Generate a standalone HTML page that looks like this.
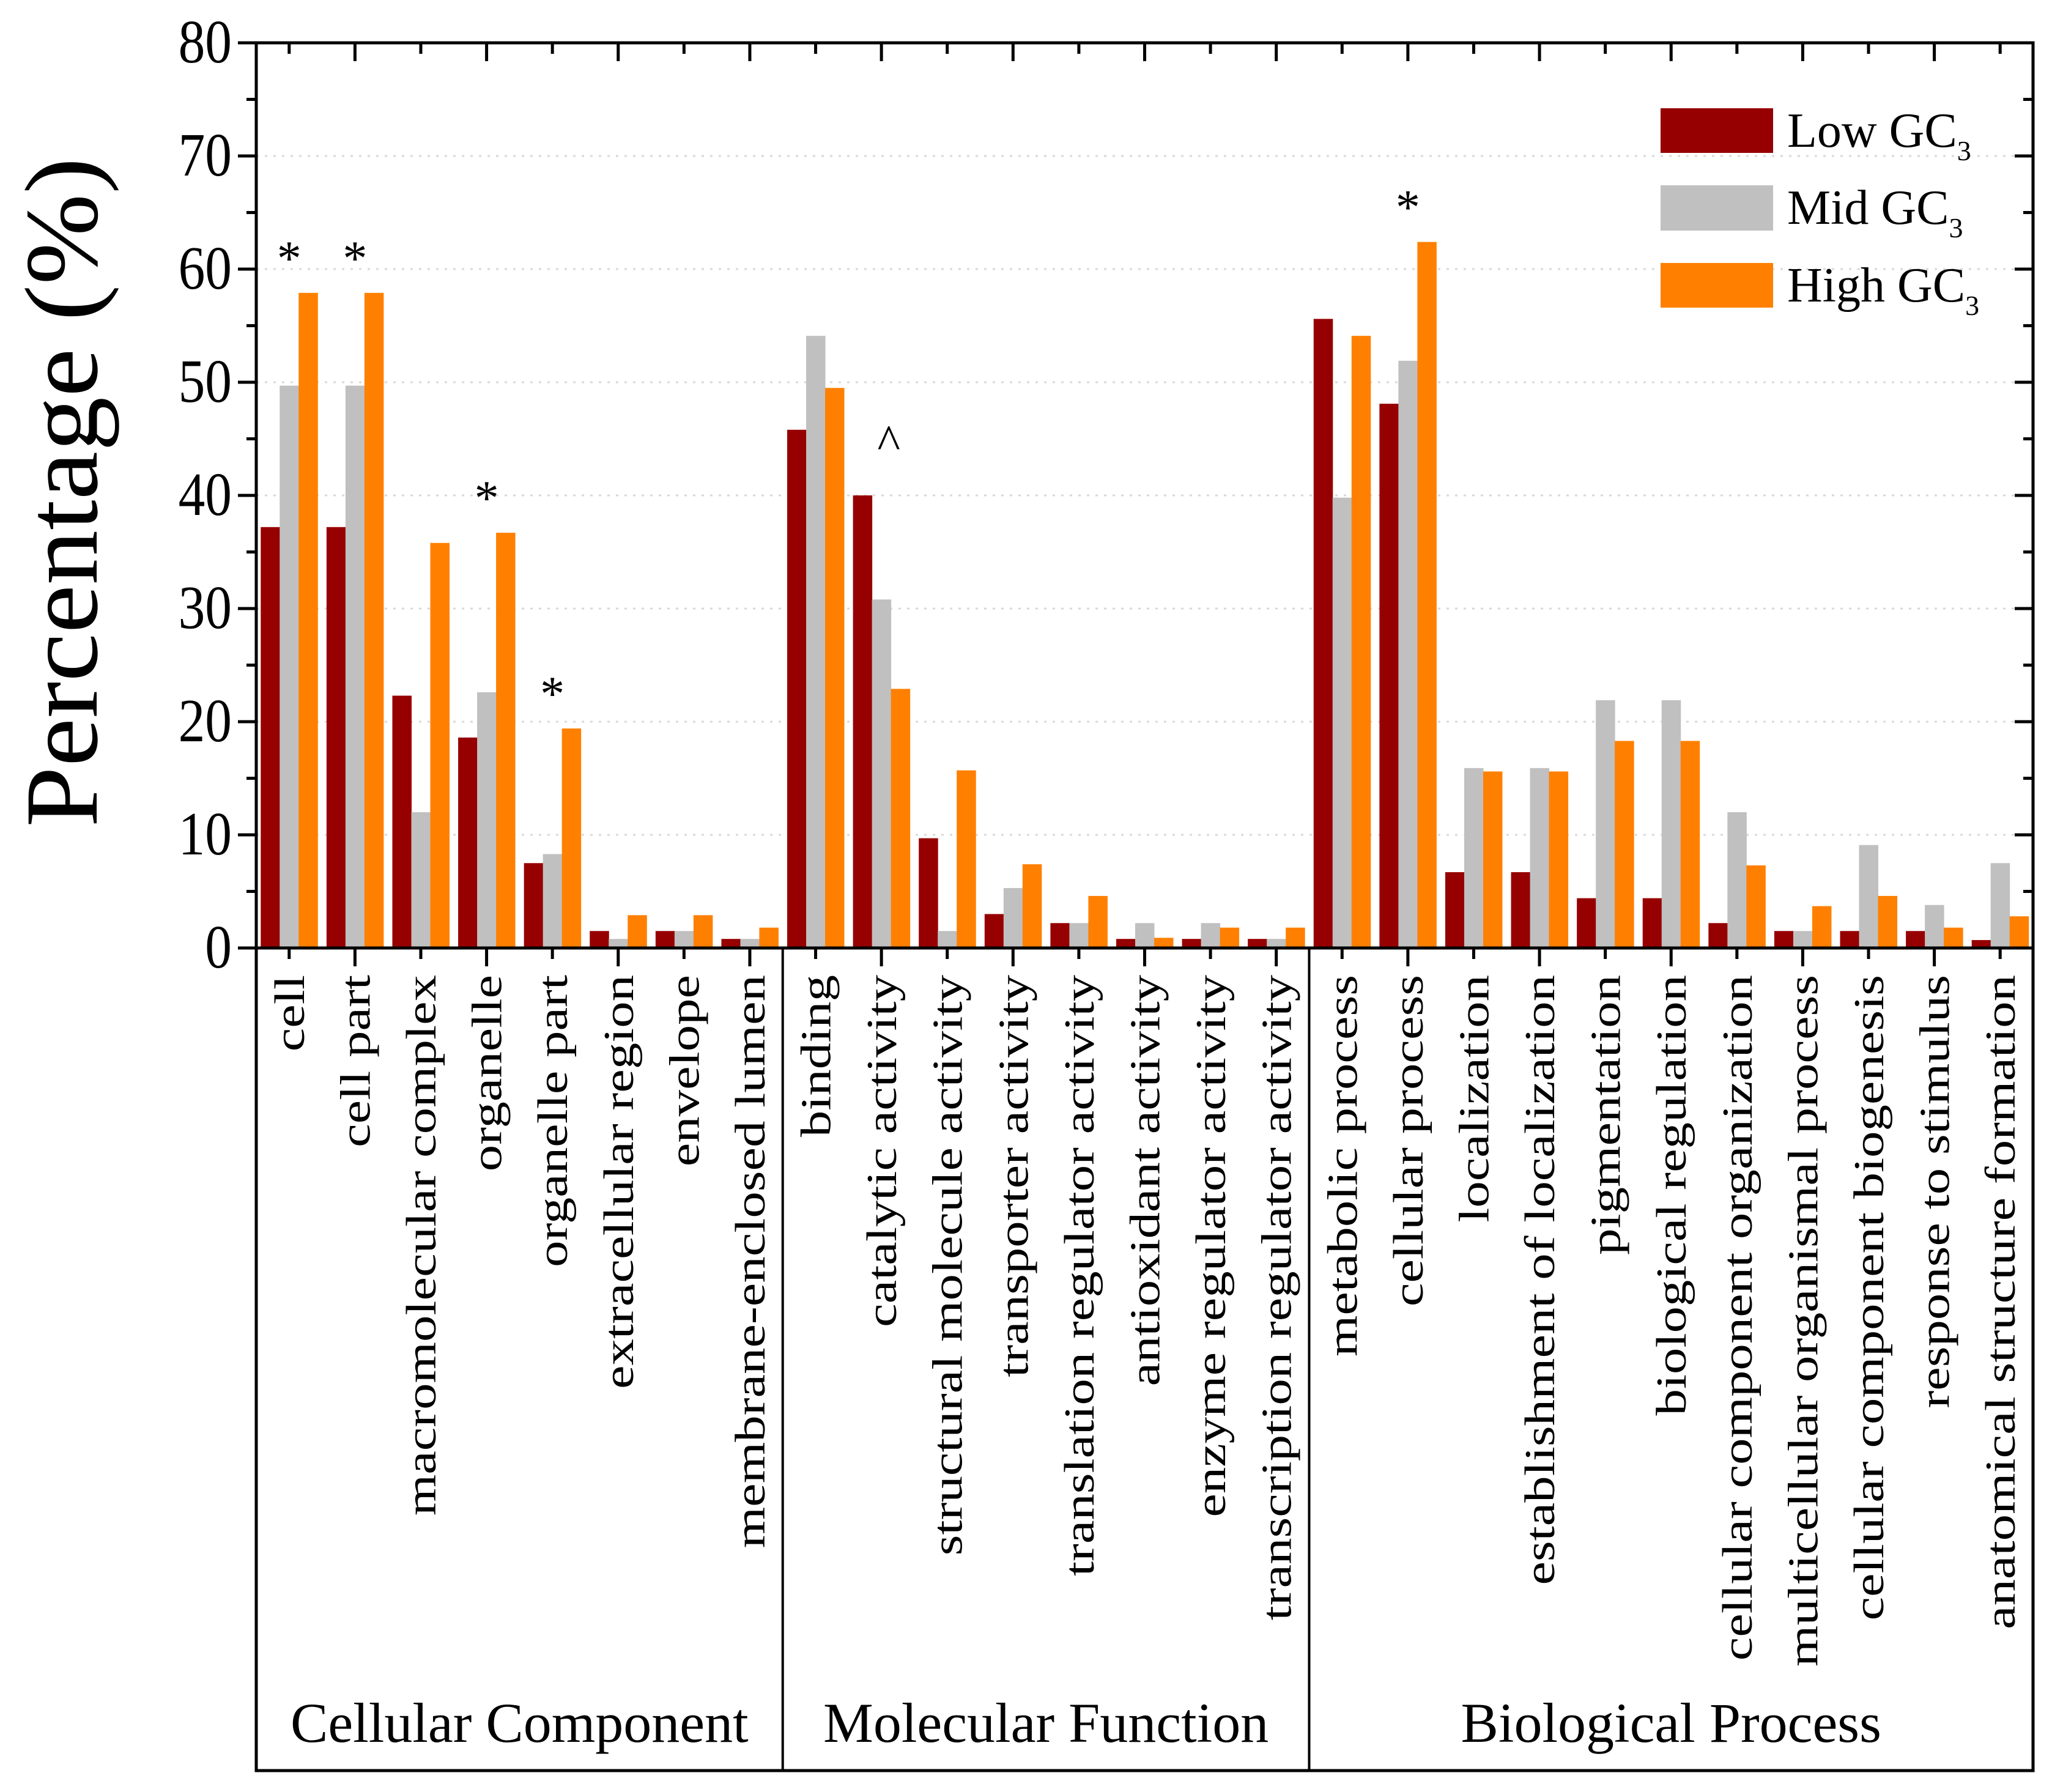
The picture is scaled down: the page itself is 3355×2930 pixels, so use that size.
<!DOCTYPE html>
<html><head><meta charset="utf-8"><style>
body{margin:0;background:#fff}
svg{display:block}
text{font-family:"Liberation Serif",serif;fill:#000}
</style></head><body>
<svg id="chart" width="3355" height="2930" viewBox="0 0 3355 2930" xmlns="http://www.w3.org/2000/svg">
<g id="grid"></g>
<g id="bars"></g>
<g id="axes"></g>
<g id="labels"></g>
<text transform="translate(158,805) rotate(-90) scale(1.05,1)" text-anchor="middle" font-size="170">Percentage (%)</text>
<g>
<rect x="2715" y="177" width="184" height="73" fill="#960000"/>
<rect x="2715" y="303" width="184" height="74" fill="#c0c0c0"/>
<rect x="2715" y="430" width="184" height="73" fill="#ff8000"/>
<text x="2922" y="240" font-size="80">Low GC<tspan font-size="46" dy="22">3</tspan></text>
<text x="2922" y="366" font-size="80">Mid GC<tspan font-size="46" dy="22">3</tspan></text>
<text x="2922" y="493" font-size="80">High GC<tspan font-size="46" dy="22">3</tspan></text>
</g>
</svg>
<script>
const categories=["cell","cell part","macromolecular complex","organelle","organelle part","extracellular region","envelope","membrane-enclosed lumen","binding","catalytic activity","structural molecule activity","transporter activity","translation regulator activity","antioxidant activity","enzyme regulator activity","transcription regulator activity","metabolic process","cellular process","localization","establishment of localization","pigmentation","biological regulation","cellular component organization","multicellular organismal process","cellular component biogenesis","response to stimulus","anatomical structure formation"];
const lowGC=[37.2,37.2,22.3,18.6,7.5,1.5,1.5,0.8,45.8,40,9.7,3,2.2,0.8,0.8,0.8,55.6,48.1,6.7,6.7,4.4,4.4,2.2,1.5,1.5,1.5,0.7];
const midGC=[49.7,49.7,12,22.6,8.3,0.8,1.5,0.8,54.1,30.8,1.5,5.3,2.2,2.2,2.2,0.8,39.8,51.9,15.9,15.9,21.9,21.9,12,1.5,9.1,3.8,7.5];
const highGC=[57.9,57.9,35.8,36.7,19.4,2.9,2.9,1.8,49.5,22.9,15.7,7.4,4.6,0.9,1.8,1.8,54.1,62.4,15.6,15.6,18.3,18.3,7.3,3.7,4.6,1.8,2.8];
const marks=["*","*","","*","*","","","","","^","","","","","","","","*","","","","","","","","",""];
const groups=["Cellular Component","Molecular Function","Biological Process"];
const groupSizes=[8,8,11];
const yTicks=[0,10,20,30,40,50,60,70,80];

const NS="http://www.w3.org/2000/svg";
const L=419,R=3324,T=70,B=1550,FB=2895;
const cw=(R-L)/categories.length;
const y=v=>B-(v/80)*(B-T);
const xc=i=>L+cw*(i+0.5);
function mk(tag,attrs,parent,txt){const e=document.createElementNS(NS,tag);for(const k in attrs)e.setAttribute(k,attrs[k]);if(txt!==undefined)e.textContent=txt;parent.appendChild(e);return e;}
const grid=document.getElementById('grid'),bars=document.getElementById('bars'),axes=document.getElementById('axes'),labels=document.getElementById('labels');
yTicks.forEach(t=>{if(t>0&&t<80){const g=mk('line',{x1:L,x2:R,y1:y(t),y2:y(t),stroke:'#d8d8d8','stroke-width':3,'stroke-dasharray':'4 10'},grid);

}
const tk=mk('line',{x1:L-30,x2:L,y1:y(t),y2:y(t),stroke:'#000','stroke-width':5},axes);


mk('line',{x1:R-30,x2:R,y1:y(t),y2:y(t),stroke:'#000','stroke-width':5},axes);
const tl=mk('text',{transform:`translate(${L-40},${y(t)+32}) scale(0.95,1.1)`,'text-anchor':'end','font-size':92},axes,String(t));


if(t<80){mk('line',{x1:L-16,x2:L,y1:y(t+5),y2:y(t+5),stroke:'#000','stroke-width':5},axes);mk('line',{x1:R-16,x2:R,y1:y(t+5),y2:y(t+5),stroke:'#000','stroke-width':5},axes);}
});
const bw=31,series=[[lowGC,'#960000','low'],[midGC,'#c0c0c0','mid'],[highGC,'#ff8000','high']];
categories.forEach((c,i)=>{
 series.forEach((s,j)=>{const v=s[0][i];const x0=xc(i)-1.5*bw+j*bw;
  const r=mk('rect',{x:x0,y:y(v),width:bw+0.5,height:B-y(v),fill:s[1]},bars);
  
  });
 if(marks[i]){const top=Math.max(lowGC[i],midGC[i],highGC[i]);
  const m=mk('text',{x:xc(i)+(marks[i]=='^'?12:0),y:y(top)-(marks[i]=='^'?60:30),'text-anchor':'middle','font-size':80},bars,marks[i]);
  
  }
 const long=i%2==1;
 mk('line',{x1:xc(i),x2:xc(i),y1:B,y2:B+(long?30:18),stroke:'#000','stroke-width':5},axes);
 mk('line',{x1:xc(i),x2:xc(i),y1:T,y2:T+(long?30:18),stroke:'#000','stroke-width':5},axes);
 const lb=mk('text',{transform:`translate(${xc(i)+24},1594) rotate(-90) scale(1.24,1)`,'text-anchor':'end','font-size':70},labels,c);
 
 
});
mk('rect',{x:L,y:T,width:R-L,height:FB-T,fill:'none',stroke:'#000','stroke-width':5},axes);
mk('line',{x1:L,x2:R,y1:B,y2:B,stroke:'#000','stroke-width':5},axes);
let start=0;
groups.forEach((g,k)=>{const end=start+groupSizes[k];
 if(k>0){const d=mk('line',{x1:L+cw*start,x2:L+cw*start,y1:B,y2:FB,stroke:'#000','stroke-width':4},axes);
  
  }
 const gt=mk('text',{x:L+cw*(start+end)/2,y:2848,'text-anchor':'middle','font-size':92},labels,g);
 
 
 start=end;});
</script>
</body></html>
